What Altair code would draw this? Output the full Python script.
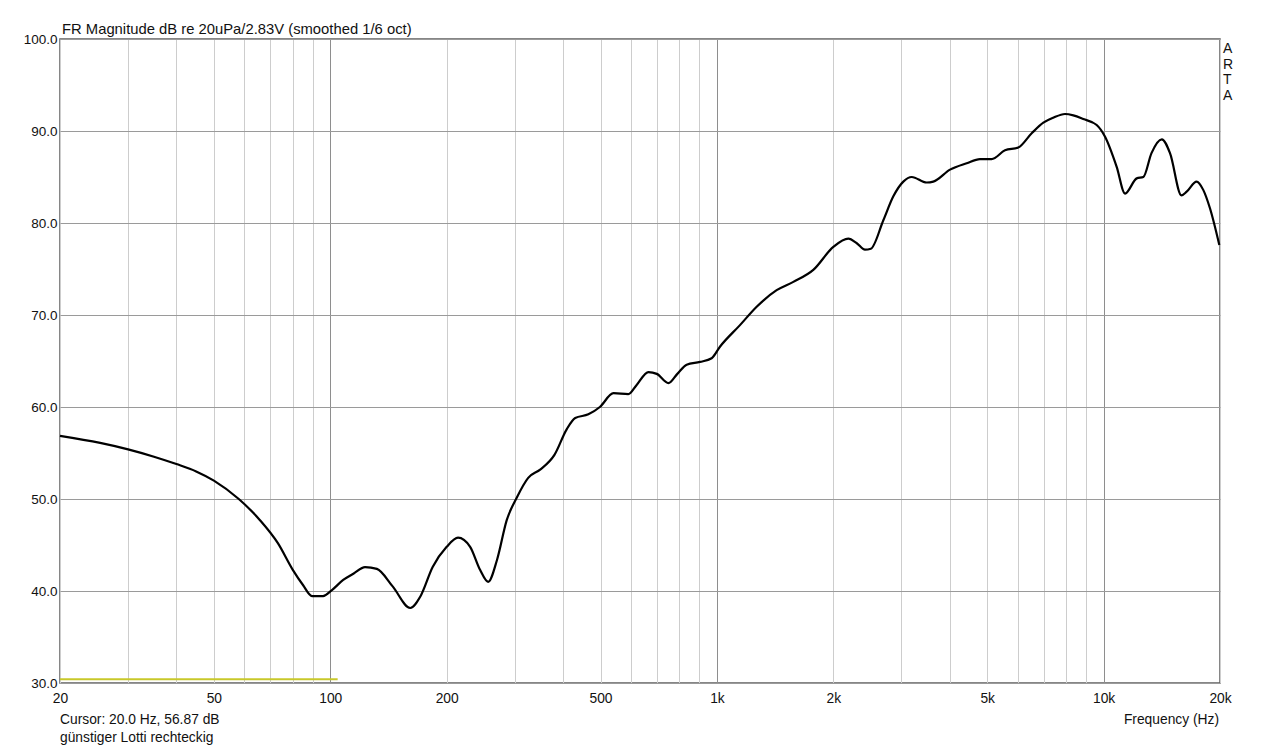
import altair as alt
import pandas as pd

# ---- data ----
freq_hz = [20, 25.4, 30, 35, 40, 45, 50, 58, 65.8, 73.2, 80, 85, 89.7, 95.8, 101, 108, 115, 123,
           132, 145, 161, 171, 184, 200, 214, 230, 244, 256, 270, 286, 304, 325, 349, 380, 409,
           430, 465, 498, 540, 590, 620, 665, 699, 749, 790, 835, 904, 969, 1018, 1147, 1267,
           1427, 1576, 1775, 2000, 2187, 2300, 2415, 2500, 2694, 2859, 3034, 3190, 3487, 3627,
           4007, 4425, 4789, 5135, 5559, 6017, 6517, 6985, 7413, 7946, 8350, 8862, 9597, 10080,
           10810, 11360, 12180, 12670, 13300, 14140, 14850, 15900, 16400, 17400, 18100, 18840,
           19920]
mag_db = [56.87, 56.1, 55.4, 54.6, 53.8, 53.0, 52.0, 50.0, 47.7, 45.2, 42.3, 40.65, 39.45, 39.45,
          40.1, 41.2, 41.9, 42.6, 42.4, 40.5, 38.15, 39.4, 42.6, 44.8, 45.8, 44.8, 42.3, 41.0,
          43.4, 47.7, 50.2, 52.3, 53.2, 54.8, 57.6, 58.8, 59.2, 60.0, 61.5, 61.4, 62.4, 63.8,
          63.6, 62.6, 63.6, 64.6, 64.9, 65.3, 66.55, 68.9, 70.9, 72.7, 73.6, 74.9, 77.4, 78.3,
          77.8, 77.1, 77.2, 80.3, 82.9, 84.5, 85.0, 84.4, 84.5, 85.8, 86.5, 86.95, 86.95, 87.9,
          88.2, 89.75, 90.9, 91.45, 91.85, 91.7, 91.3, 90.65, 89.4, 86.1, 83.2, 84.85, 85.0,
          87.6, 89.1, 87.6, 83.0, 83.4, 84.5, 83.6, 81.6, 77.6]

x_grid = [20, 30, 40, 50, 60, 70, 80, 90, 100, 200, 300, 400, 500, 600, 700, 800, 900,
          1000, 2000, 3000, 4000, 5000, 6000, 7000, 8000, 9000, 10000, 20000]
x_labels = [20, 50, 100, 200, 500, 1000, 2000, 5000, 10000, 20000]
x_major = [100, 1000, 10000]
y_ticks = [30, 40, 50, 60, 70, 80, 90, 100]

cursor_from = [20]
cursor_to = [104.5]
cursor_level = [30.4]

title_text = "FR Magnitude dB re 20uPa/2.83V (smoothed 1/6 oct)"
cursor_text = "Cursor: 20.0 Hz, 56.87 dB"
name_text = "günstiger Lotti rechteckig"
xaxis_text = "Frequency (Hz)"
brand_letters = ["A", "R", "T", "A"]

FONT = "Liberation Sans"

df = pd.DataFrame({"freq": freq_hz, "db": mag_db})

label_list = ",".join(str(v) for v in x_labels)
major_list = ",".join(str(v) for v in x_major)

xscale = alt.Scale(type="log", domain=[20, 20000], nice=False)
yscale = alt.Scale(domain=[30, 100], nice=False, zero=False)

x_axis = alt.Axis(
    values=x_grid,
    labelExpr=(f"indexof([{label_list}], datum.value) >= 0 ? "
               "(datum.value >= 1000 ? (datum.value/1000) + 'k' : datum.value + '') : ''"),
    title=None, ticks=False, domain=False, labelFlush=False, labelOverlap=False,
    labelFont=FONT, labelFontSize=13.8, labelColor="#111", labelPadding=8,
    gridColor={"condition": {"test": f"indexof([{major_list}], datum.value) >= 0",
                             "value": "#8e8e8e"}, "value": "#cdcdcd"},
    gridWidth=1,
)
y_axis = alt.Axis(
    values=y_ticks, format=".1f", title=None, ticks=False, domain=False,
    labelFont=FONT, labelFontSize=13.5, labelColor="#111", labelPadding=3,
    gridColor="#9a9a9a", gridWidth=1, labelFlush=False,
)

line = alt.Chart(df).mark_line(color="#000000", strokeWidth=2.2, interpolate="monotone").encode(
    x=alt.X("freq:Q", scale=xscale, axis=x_axis),
    y=alt.Y("db:Q", scale=yscale, axis=y_axis),
)

cur_df = pd.DataFrame({"a": cursor_from, "b": cursor_to, "y": cursor_level})
cursor = alt.Chart(cur_df).mark_rule(color="#c8c82a", strokeWidth=2).encode(
    x=alt.X("a:Q", scale=xscale), x2="b:Q", y=alt.Y("y:Q", scale=yscale)
)

def label(text, x, y, align="left", size=13.8):
    return alt.Chart(pd.DataFrame({"t": [text]})).mark_text(
        align=align, baseline="alphabetic", font=FONT, fontSize=size, color="#111"
    ).encode(x=alt.value(x), y=alt.value(y), text="t:N")

title = label(title_text, 2, -5, size=14.8)
cur_txt = label(cursor_text, 0, 685)
name_txt = label(name_text, 0, 703)
freq_txt = label(xaxis_text, 1159, 685, align="right")

brand = alt.Chart(pd.DataFrame({"k": [0]})).mark_text(
    text=brand_letters, align="left", baseline="alphabetic", font=FONT, fontSize=14,
    lineHeight=15.6, color="#111"
).encode(x=alt.value(1163), y=alt.value(14))

chart = alt.layer(line, cursor, title, cur_txt, name_txt, freq_txt, brand).properties(
    width=1160, height=644,
    autosize=alt.AutoSizeParams(type="none"),
    padding={"left": 52, "top": 31, "right": 30, "bottom": 63},
    background="#ffffff",
).configure_view(stroke="#5f5f5f", strokeWidth=1.5)

chart.save("out.html", embed_options={"renderer": "svg", "actions": False})
